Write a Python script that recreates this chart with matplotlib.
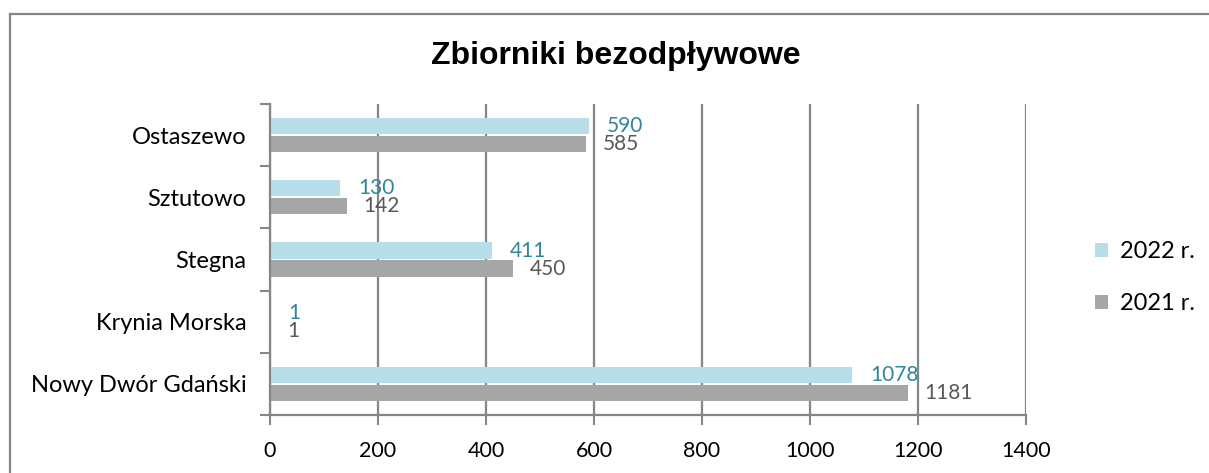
import numpy as np
import matplotlib.pyplot as plt
from matplotlib.lines import Line2D

categories = ['Nowy Dwór Gdański', 'Krynia Morska', 'Stegna', 'Sztutowo', 'Ostaszewo']
values_2022 = [1078, 1, 411, 130, 590]
values_2021 = [1181, 1, 450, 142, 585]
series_names = ['2022 r.', '2021 r.']
xticks = [0, 200, 400, 600, 800, 1000, 1200, 1400]

plt.rcParams['font.family'] = ['Lato', 'DejaVu Sans']

fig = plt.figure(figsize=(12.09, 4.73), dpi=100)
ax = fig.add_axes([0.2233, 0.1226, 0.6253, 0.6574])

y = np.arange(len(categories))
h = 0.26
off = 0.145
c22 = '#b7dee8'
c21 = '#a6a6a6'
b1 = ax.barh(y + off, values_2022, height=h, color=c22, label=series_names[0], zorder=3)
b2 = ax.barh(y - off, values_2021, height=h, color=c21, label=series_names[1], zorder=3)

for v, yy in zip(values_2022, y + off):
    ax.annotate(str(v), (v, yy), xytext=(13, 0), textcoords='offset points',
                ha='left', va='center', fontsize=15, color='#31859c')
for v, yy in zip(values_2021, y - off):
    ax.annotate(str(v), (v, yy), xytext=(12, 0), textcoords='offset points',
                ha='left', va='center', fontsize=15, color='#595959')

ax.set_xlim(0, 1400)
ax.set_ylim(-0.5, len(categories) - 0.5)
ax.set_xticks(xticks)
ax.set_xticklabels([str(t) for t in xticks], fontsize=15.5)
ax.set_yticks(y)
ax.set_yticklabels(categories, fontsize=17)
ax.set_yticks(np.arange(-0.5, len(categories), 1), minor=True)
ax.tick_params(axis='y', which='major', length=0, pad=17)
ax.tick_params(axis='y', which='minor', length=7, width=1.5, color='#868686', direction='out')
ax.tick_params(axis='x', length=7, width=1.5, color='#868686', direction='out', pad=12)

ax.grid(axis='x', color='#868686', linewidth=1.6, zorder=0)
for s in ['top', 'right']:
    ax.spines[s].set_visible(False)
for s in ['left', 'bottom']:
    ax.spines[s].set_color('#868686')
    ax.spines[s].set_linewidth(1.6)
    ax.spines[s].set_zorder(4)

fig.text(0.509, 0.882, 'Zbiorniki bezodpływowe', ha='center', va='center',
         fontsize=23, fontweight='bold', family=['Liberation Sans', 'DejaVu Sans'])

leg = fig.legend(handles=[b1, b2], loc='center left', bbox_to_anchor=(0.906, 0.413),
                 frameon=False, fontsize=17, handlelength=0.55, handleheight=0.55,
                 handletextpad=0.5, labelspacing=1.3, borderpad=0, borderaxespad=0)

fig.add_artist(Line2D([0.0083, 0.0083], [0, 0.971], color='#868686', linewidth=1.6, transform=fig.transFigure))
fig.add_artist(Line2D([0.0083, 1.0], [0.971, 0.971], color='#868686', linewidth=1.6, transform=fig.transFigure))

fig.savefig('out.png', dpi=100)
